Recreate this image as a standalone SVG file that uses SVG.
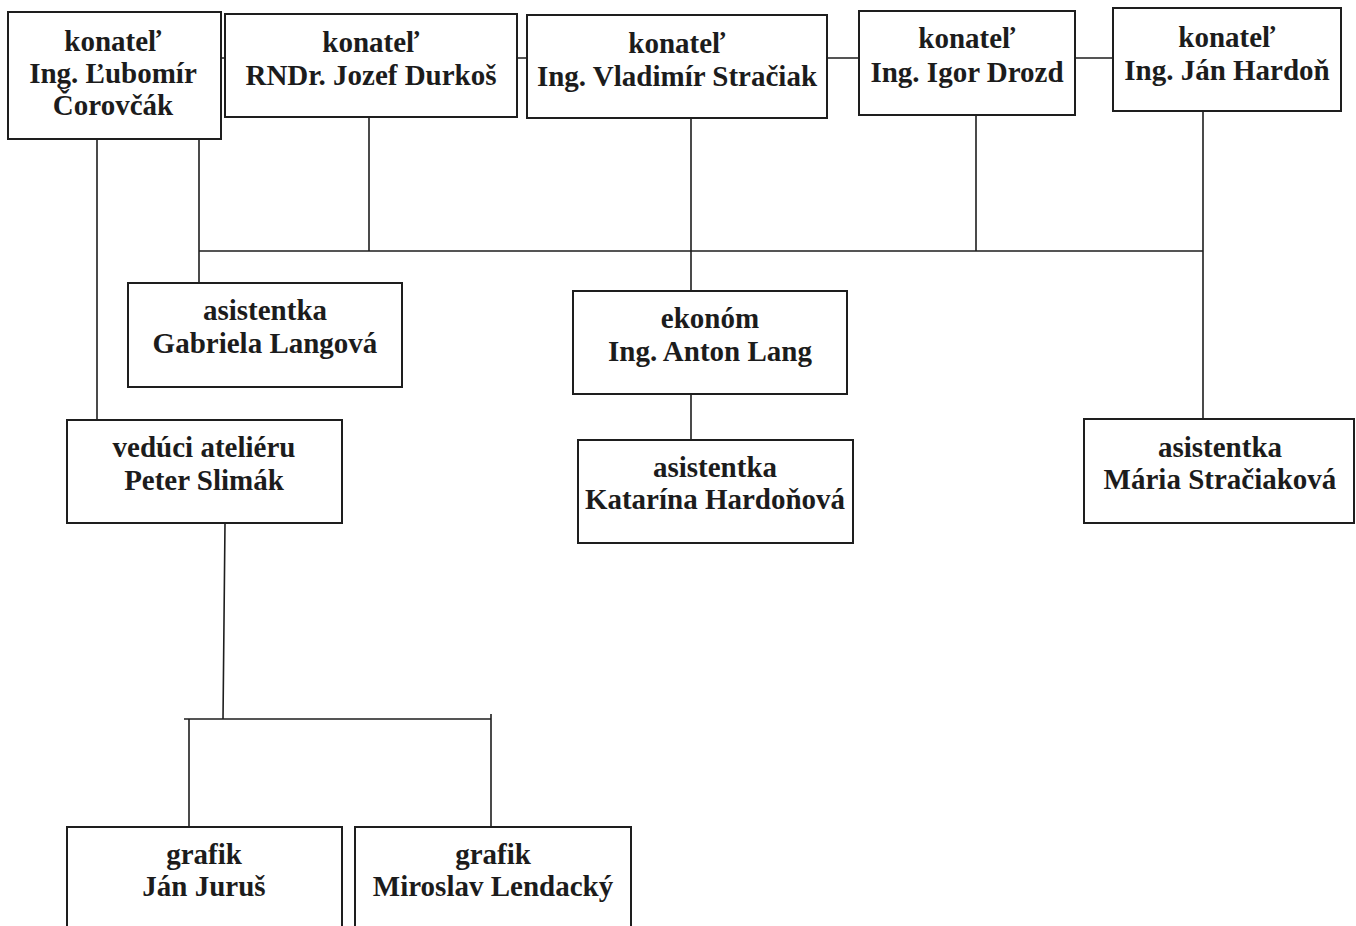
<svg xmlns="http://www.w3.org/2000/svg" width="1356" height="926" viewBox="0 0 1356 926">
<style>
.box{fill:#fff;stroke:#1e1e1e;stroke-width:2}
.ln{fill:none;stroke:#1e1e1e;stroke-width:1.6}
text{font-family:"Liberation Serif","Times New Roman",serif;font-size:29px;font-weight:bold;fill:#1c1c1c;text-anchor:middle}
</style>
<rect width="1356" height="926" fill="#fff"/>
<g id="connectors">
<path class="ln" d="M221 58H225M517 58H527M827 58H859M1075 58H1113"/>
<path class="ln" d="M97 139V420M199 139V283M199 251H1203M369 117V251M691 118V291M976 115V251M1203 111V419M691 394V440"/>
<path class="ln" d="M225 523L223 719M184 719H491M491 714V827M189 719V827"/>
</g>
<g id="n1"><rect class="box" x="8" y="12" width="213" height="127"/><text x="113" y="51">konateľ</text><text x="113" y="83">Ing. Ľubomír</text><text x="113" y="115">Čorovčák</text></g>
<g id="n2"><rect class="box" x="225" y="14" width="292" height="103"/><text x="371" y="52">konateľ</text><text x="371" y="85">RNDr. Jozef Durkoš</text></g>
<g id="n3"><rect class="box" x="527" y="15" width="300" height="103"/><text x="677" y="53">konateľ</text><text x="677" y="86">Ing. Vladimír Stračiak</text></g>
<g id="n4"><rect class="box" x="859" y="11" width="216" height="104"/><text x="967" y="48">konateľ</text><text x="967" y="82">Ing. Igor Drozd</text></g>
<g id="n5"><rect class="box" x="1113" y="8" width="228" height="103"/><text x="1227" y="47">konateľ</text><text x="1227" y="80">Ing. Ján Hardoň</text></g>
<g id="n6"><rect class="box" x="128" y="283" width="274" height="104"/><text x="265" y="320">asistentka</text><text x="265" y="353">Gabriela Langová</text></g>
<g id="n7"><rect class="box" x="573" y="291" width="274" height="103"/><text x="710" y="328">ekonóm</text><text x="710" y="361">Ing. Anton Lang</text></g>
<g id="n8"><rect class="box" x="578" y="440" width="275" height="103"/><text x="715" y="477">asistentka</text><text x="715" y="509">Katarína Hardoňová</text></g>
<g id="n9"><rect class="box" x="1084" y="419" width="270" height="104"/><text x="1220" y="457">asistentka</text><text x="1220" y="489">Mária Stračiaková</text></g>
<g id="n10"><rect class="box" x="67" y="420" width="275" height="103"/><text x="204" y="457">vedúci ateliéru</text><text x="204" y="490">Peter Slimák</text></g>
<g id="n11"><rect class="box" x="67" y="827" width="275" height="130"/><text x="204" y="864">grafik</text><text x="204" y="896">Ján Juruš</text></g>
<g id="n12"><rect class="box" x="355" y="827" width="276" height="130"/><text x="493" y="864">grafik</text><text x="493" y="896">Miroslav Lendacký</text></g>
</svg>
